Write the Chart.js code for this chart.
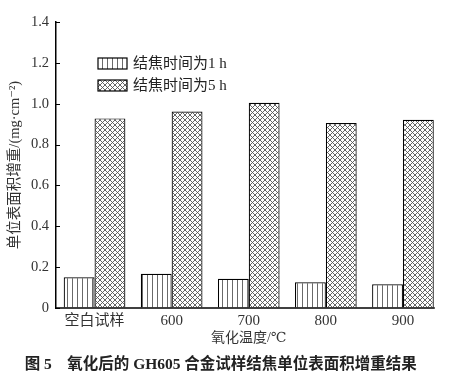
<!DOCTYPE html>
<html>
<head>
<meta charset="utf-8">
<script src="https://cdn.jsdelivr.net/npm/chart.js@4"></script>
<style>
html,body{margin:0;padding:0;background:#fff;}
#wrap{width:458px;height:381px;position:relative;}
</style>
</head>
<body>
<div id="wrap"><canvas id="c" width="458" height="381"></canvas></div>
<script>
const categories = ['空白试样', '600', '700', '800', '900'];
const series1h = [0.150, 0.168, 0.143, 0.126, 0.116];
const series5h = [0.928, 0.962, 1.005, 0.905, 0.921];
const seriesLabels = ['结焦时间为1 h', '结焦时间为5 h'];
const yTicks = [0, 0.2, 0.4, 0.6, 0.8, 1.0, 1.2, 1.4];
const yTitle = '单位表面积增重/(mg·cm⁻²)';
const xTitle = '氧化温度/℃';
const caption = '图 5　氧化后的 GH605 合金试样结焦单位表面积增重结果';

const SERIF = '"Liberation Serif", "DejaVu Serif", "Noto Sans CJK SC", serif';

function makeVertical() {
  const c = document.createElement('canvas');
  c.width = 5; c.height = 5;
  const x = c.getContext('2d');
  x.fillStyle = '#fff'; x.fillRect(0, 0, 5, 5);
  x.strokeStyle = '#6a6a6a'; x.lineWidth = 1;
  x.beginPath(); x.moveTo(2.5, 0); x.lineTo(2.5, 5); x.stroke();
  return x.createPattern(c, 'repeat');
}
function makeCross() {
  const s = 5;
  const c = document.createElement('canvas');
  c.width = s; c.height = s;
  const x = c.getContext('2d');
  x.fillStyle = '#fff'; x.fillRect(0, 0, s, s);
  x.strokeStyle = '#555'; x.lineWidth = 0.9;
  x.beginPath();
  x.moveTo(0, 0); x.lineTo(s, s);
  x.moveTo(s, 0); x.lineTo(0, s);
  x.stroke();
  return x.createPattern(c, 'repeat');
}
const patV = makeVertical();
const patX = makeCross();

const customPlugin = {
  id: 'custom',
  afterDraw(chart) {
    const ctx = chart.ctx;
    const area = chart.chartArea;
    const ys = chart.scales.y;
    ctx.save();
    // inward y ticks
    ctx.strokeStyle = '#000';
    ctx.lineWidth = 1.2;
    ctx.beginPath();
    yTicks.forEach(v => {
      const py = Math.round(ys.getPixelForValue(v)) + 0.5;
      ctx.moveTo(area.left, py);
      ctx.lineTo(area.left + 4, py);
    });
    ctx.stroke();
    // x axis line up to last bar edge
    const meta = chart.getDatasetMeta(1);
    const last = meta.data[meta.data.length - 1];
    const xEnd = last.x + last.width / 2 + 1;
    ctx.lineWidth = 1.5;
    ctx.beginPath();
    ctx.moveTo(area.left - 0.75, area.bottom);
    ctx.lineTo(xEnd, area.bottom);
    ctx.stroke();
    // legend
    const pats = [patV, patX];
    ctx.font = '15px ' + SERIF;
    ctx.textBaseline = 'middle';
    ctx.textAlign = 'left';
    for (let i = 0; i < 2; i++) {
      const bx = 98, by = 58 + i * 22, bw = 29, bh = 11;
      ctx.fillStyle = pats[i];
      ctx.fillRect(bx, by, bw, bh);
      ctx.strokeStyle = '#000';
      ctx.lineWidth = 1.2;
      ctx.strokeRect(bx, by, bw, bh);
      ctx.fillStyle = '#222';
      ctx.fillText(chart.data.datasets[i].label, 133, by + bh / 2 + 0.5);
    }
    ctx.restore();
  }
};

new Chart(document.getElementById('c'), {
  type: 'bar',
  data: {
    labels: categories,
    datasets: [
      { label: seriesLabels[0], data: series1h, backgroundColor: patV, borderColor: '#000', borderWidth: 1.2, borderSkipped: 'bottom' },
      { label: seriesLabels[1], data: series5h, backgroundColor: patX, borderColor: '#000', borderWidth: 1.2, borderSkipped: 'bottom' }
    ]
  },
  options: {
    responsive: false,
    animation: false,
    events: [],
    layout: { padding: { left: 0, right: 16.5, top: 22, bottom: 6.7 } },
    datasets: { bar: { categoryPercentage: 0.8, barPercentage: 1.0 } },
    plugins: {
      legend: { display: false },
      tooltip: { enabled: false },
      title: {
        display: true,
        text: caption,
        position: 'bottom',
        color: '#222',
        font: { family: SERIF, size: 15.5, weight: 'bold', lineHeight: 1.2 },
        padding: 0
      }
    },
    scales: {
      x: {
        grid: { display: false, drawTicks: false, tickLength: 0 },
        border: { display: false },
        ticks: { color: '#333', font: { family: SERIF, size: 15 }, padding: 4, maxRotation: 0 },
        title: { display: true, text: xTitle, color: '#333', font: { family: SERIF, size: 14, lineHeight: 1.2 }, padding: { top: 0, bottom: 9.3 } },
        afterFit(s) { s.height = 47.7; }
      },
      y: {
        min: 0, max: 1.4,
        afterBuildTicks(s) { s.ticks = yTicks.map(v => ({ value: v })); },
        grid: { drawOnChartArea: false, drawTicks: false, tickLength: 0 },
        border: { display: true, color: '#000', width: 1.5 },
        ticks: {
          color: '#333', font: { family: SERIF, size: 14.5 }, padding: 7,
          callback: (v) => (v === 0 ? '0' : v.toFixed(1))
        },
        title: { display: true, text: yTitle, color: '#333', font: { family: SERIF, size: 14.5, lineHeight: 1.2 }, padding: { top: 6, bottom: 0 } },
        afterFit(s) { s.width = 56; }
      }
    }
  },
  plugins: [customPlugin]
});
</script>
</body>
</html>
